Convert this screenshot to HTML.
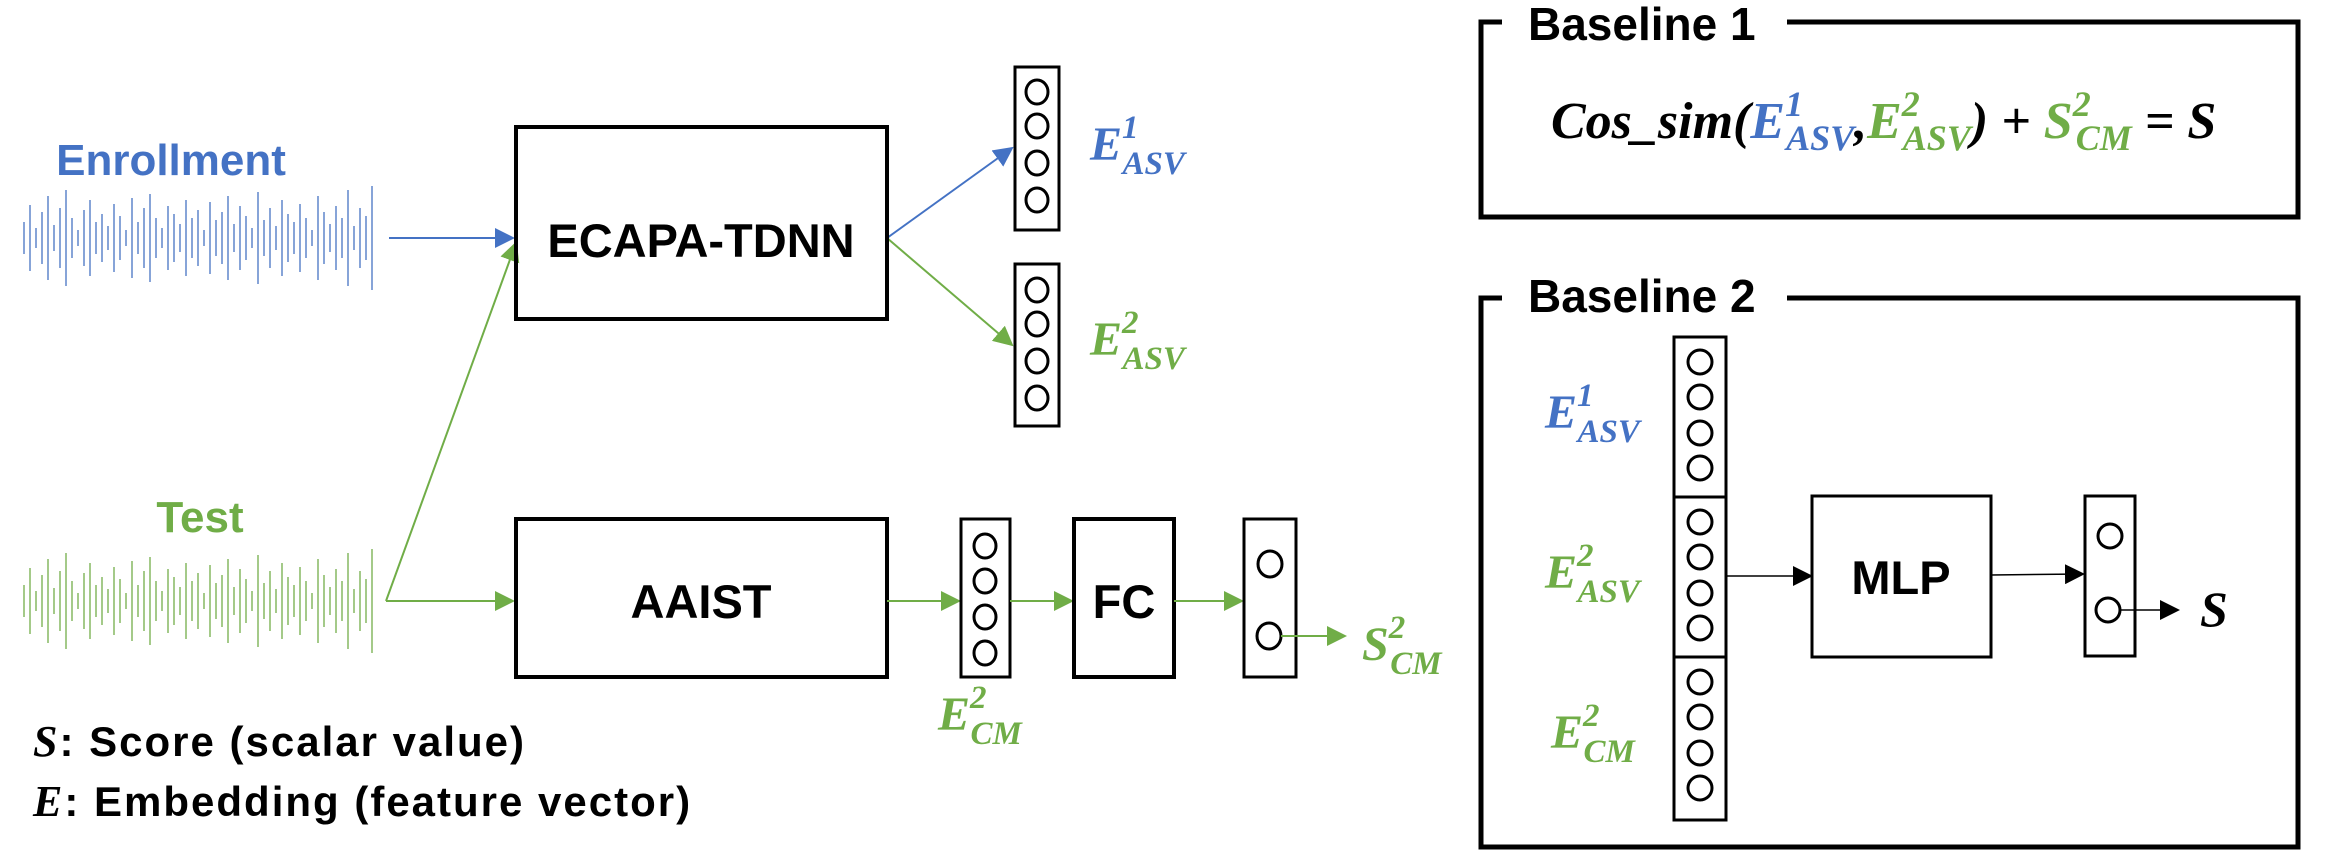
<!DOCTYPE html>
<html><head><meta charset="utf-8"><style>
html,body{margin:0;padding:0;background:#fff;}
svg{display:block;}
.b{font-family:"Liberation Sans",sans-serif;font-weight:bold;}
.m{font-family:"Liberation Serif",serif;font-weight:bold;font-style:italic;}
</style></head><body>
<svg width="2329" height="852" viewBox="0 0 2329 852" xmlns="http://www.w3.org/2000/svg">
<defs>
<marker id="ag" markerWidth="20" markerHeight="20" refX="18" refY="10" orient="auto" markerUnits="userSpaceOnUse" viewBox="0 0 20 20"><path d="M0,0 L20,10 L0,20z" fill="#70AD47"/></marker>
<marker id="ak" markerWidth="20" markerHeight="20" refX="18" refY="10" orient="auto" markerUnits="userSpaceOnUse" viewBox="0 0 20 20"><path d="M0,0 L20,10 L0,20z" fill="#000"/></marker>
<marker id="ab2" markerWidth="20" markerHeight="20" refX="18" refY="10" orient="auto" markerUnits="userSpaceOnUse" viewBox="0 0 20 20"><path d="M0,0 L20,10 L0,20z" fill="#4472C4"/></marker>
</defs>

<text x="171" y="175" text-anchor="middle" class="b" font-size="44" fill="#4472C4">Enrollment</text>
<text x="200" y="532" text-anchor="middle" class="b" font-size="44" fill="#70AD47">Test</text>

<g stroke="#4472C4" stroke-width="1.5" opacity="0.85">
<path d="M24,222V254 M30,205V271 M36,228V248 M42,212V264 M48,196V280 M54,225V251 M60,208V268 M66,190V286 M72,218V258 M78,230V246 M84,210V266 M90,200V276 M96,222V254 M102,214V262 M108,226V250 M114,204V272 M120,216V260 M126,230V246 M132,198V278 M138,222V254 M144,208V268 M150,194V282 M156,218V258 M162,228V248 M168,206V270 M174,214V262 M180,224V252 M186,200V276 M192,218V258 M198,210V266 M204,230V246 M210,202V274 M216,220V256 M222,212V264 M228,196V280 M234,224V252 M240,206V270 M246,216V260 M252,228V248 M258,192V284 M264,220V256 M270,208V268 M276,226V250 M282,200V276 M288,214V262 M294,222V254 M300,204V272 M306,218V258 M312,230V246 M318,196V280 M324,212V264 M330,224V252 M336,206V270 M342,218V258 M348,190V286 M354,226V250 M360,208V268 M366,216V260 M372,186V290"/>
</g>
<g stroke="#70AD47" stroke-width="1.5" opacity="0.85">
<path d="M24,585V617 M30,568V634 M36,591V611 M42,575V627 M48,559V643 M54,588V614 M60,571V631 M66,553V649 M72,581V621 M78,593V609 M84,573V629 M90,563V639 M96,585V617 M102,577V625 M108,589V613 M114,567V635 M120,579V623 M126,593V609 M132,561V641 M138,585V617 M144,571V631 M150,557V645 M156,581V621 M162,591V611 M168,569V633 M174,577V625 M180,587V615 M186,563V639 M192,581V621 M198,573V629 M204,593V609 M210,565V637 M216,583V619 M222,575V627 M228,559V643 M234,587V615 M240,569V633 M246,579V623 M252,591V611 M258,555V647 M264,583V619 M270,571V631 M276,589V613 M282,563V639 M288,577V625 M294,585V617 M300,567V635 M306,581V621 M312,593V609 M318,559V643 M324,575V627 M330,587V615 M336,569V633 M342,581V621 M348,553V649 M354,589V613 M360,571V631 M366,579V623 M372,549V653"/>
</g>

<line x1="389" y1="238" x2="513" y2="238" stroke="#4472C4" stroke-width="2" marker-end="url(#ab2)"/>
<line x1="386" y1="601" x2="513" y2="601" stroke="#70AD47" stroke-width="2" marker-end="url(#ag)"/>
<line x1="386" y1="601" x2="516" y2="243" stroke="#70AD47" stroke-width="2" marker-end="url(#ag)"/>
<line x1="887" y1="238" x2="1012" y2="148" stroke="#4472C4" stroke-width="2" marker-end="url(#ab2)"/>
<line x1="887" y1="238" x2="1012" y2="345" stroke="#70AD47" stroke-width="2" marker-end="url(#ag)"/>

<rect x="516" y="127" width="371" height="192" fill="none" stroke="#000" stroke-width="4"/>
<text x="701" y="257" text-anchor="middle" class="b" font-size="47">ECAPA-TDNN</text>

<g fill="none" stroke="#000" stroke-width="3">
<rect x="1015" y="67" width="44" height="163"/>
<ellipse cx="1037" cy="92" rx="11" ry="12"/><ellipse cx="1037" cy="126" rx="11" ry="12"/><ellipse cx="1037" cy="163" rx="11" ry="12"/><ellipse cx="1037" cy="200" rx="11" ry="12"/>
<rect x="1015" y="264" width="44" height="162"/>
<ellipse cx="1037" cy="290" rx="11" ry="12"/><ellipse cx="1037" cy="324" rx="11" ry="12"/><ellipse cx="1037" cy="361" rx="11" ry="12"/><ellipse cx="1037" cy="398" rx="11" ry="12"/>
</g>
<text x="1090" y="160" class="m" font-size="48" fill="#4472C4">E<tspan font-size="33" dy="-22">1</tspan><tspan font-size="33" dx="-16" dy="36">ASV</tspan></text>
<text x="1090" y="355" class="m" font-size="48" fill="#70AD47">E<tspan font-size="33" dy="-22">2</tspan><tspan font-size="33" dx="-16" dy="36">ASV</tspan></text>

<rect x="516" y="519" width="371" height="158" fill="none" stroke="#000" stroke-width="4"/>
<text x="701" y="618" text-anchor="middle" class="b" font-size="47">AAIST</text>
<line x1="887" y1="601" x2="959" y2="601" stroke="#70AD47" stroke-width="2" marker-end="url(#ag)"/>
<g fill="none" stroke="#000" stroke-width="3">
<rect x="961" y="519" width="49" height="158"/>
<ellipse cx="985" cy="546" rx="11" ry="12"/><ellipse cx="985" cy="581" rx="11" ry="12"/><ellipse cx="985" cy="617" rx="11" ry="12"/><ellipse cx="985" cy="653" rx="11" ry="12"/>
</g>
<line x1="1010" y1="601" x2="1072" y2="601" stroke="#70AD47" stroke-width="2" marker-end="url(#ag)"/>
<rect x="1074" y="519" width="100" height="158" fill="none" stroke="#000" stroke-width="4"/>
<text x="1124" y="618" text-anchor="middle" class="b" font-size="47">FC</text>
<line x1="1174" y1="601" x2="1242" y2="601" stroke="#70AD47" stroke-width="2" marker-end="url(#ag)"/>
<g fill="none" stroke="#000" stroke-width="3">
<rect x="1244" y="519" width="52" height="158"/>
<ellipse cx="1270" cy="564" rx="12" ry="13"/><ellipse cx="1269" cy="636" rx="12" ry="13"/>
</g>
<line x1="1281" y1="636" x2="1345" y2="636" stroke="#70AD47" stroke-width="2" marker-end="url(#ag)"/>
<text x="1362" y="660" class="m" font-size="48" fill="#70AD47">S<tspan font-size="33" dy="-22">2</tspan><tspan font-size="33" dx="-15" dy="36">CM</tspan></text>
<text x="938" y="730" class="m" font-size="48" fill="#70AD47">E<tspan font-size="33" dy="-22">2</tspan><tspan font-size="33" dx="-16" dy="36">CM</tspan></text>

<text x="33" y="756" class="b" font-size="42" letter-spacing="2"><tspan class="m" font-size="44">S</tspan>: Score (scalar value)</text>
<text x="33" y="816" class="b" font-size="42" letter-spacing="2"><tspan class="m" font-size="44">E</tspan>: Embedding (feature vector)</text>

<path d="M1502,22 H1481 V217 H2298 V22 H1787" fill="none" stroke="#000" stroke-width="5"/>
<text x="1528" y="40" class="b" font-size="46">Baseline 1</text>
<text x="1551" y="138" class="m" font-size="52">Cos_sim(<tspan fill="#4472C4">E<tspan font-size="36" dy="-22">1</tspan><tspan font-size="36" dx="-17" dy="34">ASV</tspan></tspan><tspan dy="-12">,</tspan><tspan fill="#70AD47">E<tspan font-size="36" dy="-22">2</tspan><tspan font-size="36" dx="-17" dy="34">ASV</tspan></tspan><tspan dy="-12">) + </tspan><tspan fill="#70AD47">S<tspan font-size="36" dy="-22">2</tspan><tspan font-size="36" dx="-15" dy="34">CM</tspan></tspan><tspan dy="-12"> = S</tspan></text>

<path d="M1502,298 H1481 V847 H2298 V298 H1787" fill="none" stroke="#000" stroke-width="5"/>
<text x="1528" y="312" class="b" font-size="46">Baseline 2</text>
<g fill="none" stroke="#000" stroke-width="3">
<rect x="1674" y="337" width="52" height="483"/>
<line x1="1674" y1="497" x2="1726" y2="497"/><line x1="1674" y1="657" x2="1726" y2="657"/>
<circle cx="1700" cy="362" r="12"/><circle cx="1700" cy="397" r="12"/><circle cx="1700" cy="433" r="12"/><circle cx="1700" cy="468" r="12"/>
<circle cx="1700" cy="522" r="12"/><circle cx="1700" cy="557" r="12"/><circle cx="1700" cy="593" r="12"/><circle cx="1700" cy="628" r="12"/>
<circle cx="1700" cy="682" r="12"/><circle cx="1700" cy="717" r="12"/><circle cx="1700" cy="753" r="12"/><circle cx="1700" cy="788" r="12"/>
</g>
<text x="1545" y="428" class="m" font-size="48" fill="#4472C4">E<tspan font-size="33" dy="-22">1</tspan><tspan font-size="33" dx="-16" dy="36">ASV</tspan></text>
<text x="1545" y="588" class="m" font-size="48" fill="#70AD47">E<tspan font-size="33" dy="-22">2</tspan><tspan font-size="33" dx="-16" dy="36">ASV</tspan></text>
<text x="1551" y="748" class="m" font-size="48" fill="#70AD47">E<tspan font-size="33" dy="-22">2</tspan><tspan font-size="33" dx="-16" dy="36">CM</tspan></text>
<line x1="1726" y1="576" x2="1811" y2="576" stroke="#000" stroke-width="1.5" marker-end="url(#ak)"/>
<rect x="1812" y="496" width="179" height="161" fill="none" stroke="#000" stroke-width="3"/>
<text x="1901" y="594" text-anchor="middle" class="b" font-size="47">MLP</text>
<line x1="1991" y1="575" x2="2083" y2="574" stroke="#000" stroke-width="1.5" marker-end="url(#ak)"/>
<g fill="none" stroke="#000" stroke-width="3">
<rect x="2085" y="496" width="50" height="160"/>
<circle cx="2110" cy="536" r="12"/><circle cx="2108" cy="610" r="12"/>
</g>
<line x1="2120" y1="610" x2="2178" y2="610" stroke="#000" stroke-width="1.5" marker-end="url(#ak)"/>
<text x="2200" y="626" class="m" font-size="50">S</text>
</svg>
</body></html>
